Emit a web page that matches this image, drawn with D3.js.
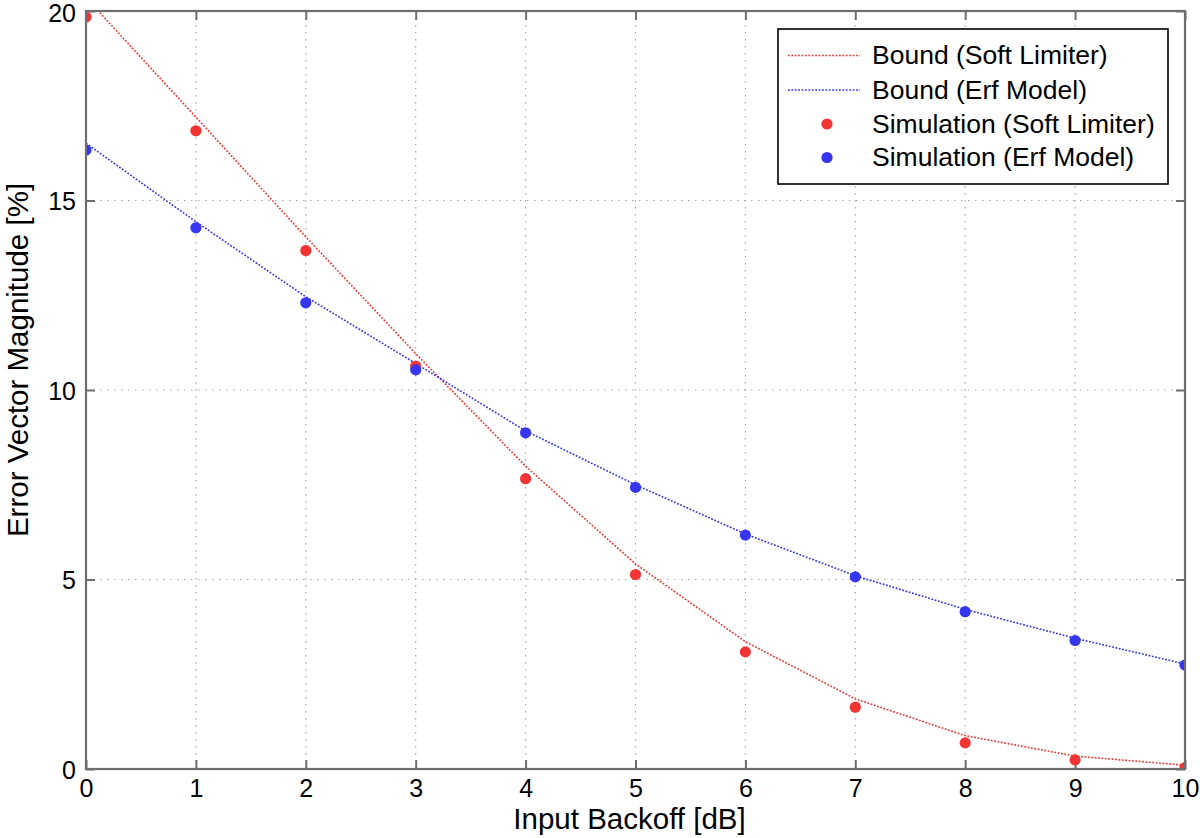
<!DOCTYPE html>
<html>
<head>
<meta charset="utf-8">
<script src="https://cdn.jsdelivr.net/npm/d3@7/dist/d3.min.js"></script>
<style>
  html, body { margin: 0; padding: 0; background: #fff; }
  svg { display: block; font-family: "Liberation Sans", Arial, Helvetica, sans-serif; }
</style>
</head>
<body>
<svg id="chart" width="1200" height="838"></svg>
<script>
// ---- data ----
const backoff = [0, 1, 2, 3, 4, 5, 6, 7, 8, 9, 10];
const boundSoftLimiter = [20.35, 17.2, 14.04, 10.96, 7.99, 5.41, 3.36, 1.85, 0.88, 0.34, 0.10];
const boundErfModel = [16.51, 14.44, 12.46, 10.70, 8.92, 7.50, 6.20, 5.10, 4.21, 3.45, 2.77];
const simSoftLimiter = [19.84, 16.84, 13.68, 10.63, 7.66, 5.13, 3.09, 1.63, 0.69, 0.24, 0.04];
const simErfModel = [16.33, 14.28, 12.30, 10.53, 8.87, 7.43, 6.17, 5.07, 4.15, 3.39, 2.74];
const xTicks = [0, 1, 2, 3, 4, 5, 6, 7, 8, 9, 10];
const yTicks = [0, 5, 10, 15, 20];
const legendLabels = ["Bound (Soft Limiter)", "Bound (Erf Model)", "Simulation (Soft Limiter)", "Simulation (Erf Model)"];
const xTitle = "Input Backoff [dB]";
const yTitle = "Error Vector Magnitude [%]";

// ---- layout ----
const L = 86, R = 1185, T = 11, B = 769;
const RED = "#f23434", BLUE = "#3535f2";
const svg = d3.select("#chart");
const x = d3.scaleLinear().domain([0, 10]).range([L, R]);
const y = d3.scaleLinear().domain([0, 20]).range([B, T]);

svg.append("defs").append("clipPath").attr("id", "clip")
  .append("rect").attr("x", L).attr("y", T).attr("width", R - L).attr("height", B - T);

// grid
const grid = svg.append("g");
grid.selectAll("line.gx").data(xTicks.slice(1, -1)).join("line")
  .attr("x1", d => x(d)).attr("x2", d => x(d)).attr("y1", T).attr("y2", B)
  .attr("stroke", "#a8a8a8").attr("stroke-width", 1.2).attr("stroke-dasharray", "1.5,5.5");
grid.selectAll("line.gy").data(yTicks.slice(1, -1)).join("line")
  .attr("y1", d => y(d)).attr("y2", d => y(d)).attr("x1", L).attr("x2", R)
  .attr("stroke", "#a8a8a8").attr("stroke-width", 1.2).attr("stroke-dasharray", "1.5,5.5");

// axes (ticks inward)
const axisStyle = g => {
  g.select(".domain").remove();
  g.selectAll(".tick line").attr("stroke", "#6e6e6e").attr("stroke-width", 2);
  g.selectAll("text").attr("fill", "#000").style("font-size", "25px");
};
svg.append("g").attr("transform", `translate(0,${B})`)
  .call(d3.axisBottom(x).tickValues(xTicks).tickSize(-9).tickPadding(0).tickFormat(d3.format("d")))
  .call(axisStyle)
  .call(g => g.selectAll("text").attr("y", 28).attr("dy", 0));
svg.append("g").attr("transform", `translate(0,${T})`)
  .call(d3.axisTop(x).tickValues(xTicks).tickSize(-9).tickFormat(""))
  .call(axisStyle);
svg.append("g").attr("transform", `translate(${L},0)`)
  .call(d3.axisLeft(y).tickValues(yTicks).tickSize(-9).tickPadding(0).tickFormat(d3.format("d")))
  .call(axisStyle)
  .call(g => g.selectAll("text").attr("x", -10).attr("dy", d => d === 20 ? "0.42em" : "0.36em"));
svg.append("g").attr("transform", `translate(${R},0)`)
  .call(d3.axisRight(y).tickValues(yTicks).tickSize(-9).tickFormat(""))
  .call(axisStyle);

// data
const plot = svg.append("g").attr("clip-path", "url(#clip)");
const line = d3.line().x((d, i) => x(backoff[i])).y(d => y(d));
plot.append("path").datum(boundSoftLimiter).attr("d", line)
  .attr("fill", "none").attr("stroke", RED).attr("stroke-width", 1.6).attr("stroke-dasharray", "1.8,1.6");
plot.append("path").datum(boundErfModel).attr("d", line)
  .attr("fill", "none").attr("stroke", BLUE).attr("stroke-width", 1.6).attr("stroke-dasharray", "1.8,1.6");
plot.selectAll("circle.sr").data(simSoftLimiter).join("circle")
  .attr("cx", (d, i) => x(backoff[i])).attr("cy", d => y(d)).attr("r", 5.6).attr("fill", RED);
plot.selectAll("circle.sb").data(simErfModel).join("circle")
  .attr("cx", (d, i) => x(backoff[i])).attr("cy", d => y(d)).attr("r", 5.6).attr("fill", BLUE);

// frame
svg.append("rect").attr("x", L).attr("y", T).attr("width", R - L).attr("height", B - T)
  .attr("fill", "none").attr("stroke", "#6e6e6e").attr("stroke-width", 2.2);

// titles
svg.append("text").attr("x", (L + R) / 2 - 6).attr("y", 829).attr("text-anchor", "middle")
  .style("font-size", "29.5px").text(xTitle);
svg.append("text").attr("transform", `translate(28,360) rotate(-90)`).attr("text-anchor", "middle")
  .style("font-size", "29.5px").text(yTitle);

// legend
const lg = svg.append("g");
lg.append("rect").attr("x", 778).attr("y", 29).attr("width", 390).attr("height", 155)
  .attr("fill", "#fff").attr("stroke", "#000").attr("stroke-width", 1.6);
const rowY = [55.5, 90, 124, 157.5];
const colors = [RED, BLUE, RED, BLUE];
legendLabels.forEach((lab, i) => {
  if (i < 2) {
    lg.append("line").attr("x1", 788).attr("x2", 860).attr("y1", rowY[i]).attr("y2", rowY[i])
      .attr("stroke", colors[i]).attr("stroke-width", 1.6).attr("stroke-dasharray", "1.8,1.6");
  } else {
    lg.append("circle").attr("cx", 827).attr("cy", rowY[i]).attr("r", 5.6).attr("fill", colors[i]);
  }
  lg.append("text").attr("x", 872).attr("y", rowY[i] + 8.5).style("font-size", "26.5px").text(lab);
});
</script>
</body>
</html>
